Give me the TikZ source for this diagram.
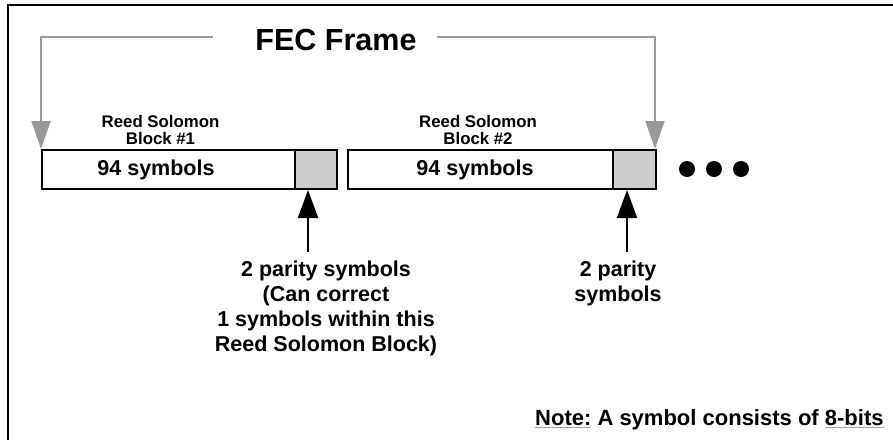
\documentclass[tikz,border=0pt]{standalone}
\usepackage{fontspec}
\setmainfont{Liberation Sans}
\usetikzlibrary{arrows.meta}
\definecolor{bracketgray}{HTML}{999999}
\definecolor{parityfill}{HTML}{CCCCCC}
\definecolor{ulgray}{HTML}{A0A0A0}
\newcommand\grayul[1]{\leavevmode\setbox0\hbox{#1}\rlap{\color{ulgray}\rule[-3.2pt]{\wd0}{0.9pt}}\box0\relax}
\begin{document}
\begin{tikzpicture}[x=1pt,y=-1pt,
  framebox/.style={draw=black,line width=2pt,rectangle,minimum height=39pt,inner sep=0pt},
  paritybox/.style={framebox,fill=parityfill},
  biglabel/.style={font=\bfseries\fontsize{21.5}{25}\selectfont,inner sep=0pt,align=center},
  blocklabel/.style={font=\bfseries\fontsize{16.8}{17.5}\selectfont,inner sep=0pt,align=center},
  grayarrow/.style={draw=bracketgray,line width=2pt,-{Triangle[length=28pt,width=19pt]}},
  blackarrow/.style={draw=black,line width=2pt,-{Triangle[length=28pt,width=20pt]}},
  dot/.style={circle,fill=black,minimum size=16pt,inner sep=0pt}]
\useasboundingbox (0,0) rectangle (893,439);
% outer frame (top and left edges)
\draw[line width=2.5pt] (8,441) -- (8,5) -- (895,5);
% blocks
\node[framebox,minimum width=295pt] (box1) at (189.5,169.5) {};
\node[paritybox,minimum width=42pt] (gray1) at (316,169.5) {};
\node[framebox,minimum width=308pt] (box2) at (502,169.5) {};
\node[paritybox,minimum width=43pt] (gray2) at (634.5,169.5) {};
\node[biglabel] (sym1) at (156,169.5) {94 symbols};
\node[biglabel] (sym2) at (475,169.5) {94 symbols};
% block labels
\node[blocklabel,anchor=north] (rs1) at (160.5,115) {Reed Solomon\\Block \#1};
\node[blocklabel,anchor=north] (rs2) at (478,115) {Reed Solomon\\Block \#2};
% FEC frame bracket
\node[font=\bfseries\fontsize{30.5}{34}\selectfont,inner sep=0pt] (fec) at (336,40) {FEC Frame};
\coordinate (fl) at (213,37);
\coordinate (fr) at (437,37);
\draw[grayarrow] (fl) -| (box1.north west);
\draw[grayarrow] (fr) -| ([xshift=-2pt]box2.north east);
% dots
\node[dot] (d1) at (687,169) {};
\node[dot] (d2) at (714,169) {};
\node[dot] (d3) at (741,169) {};
% parity annotations
\node[biglabel,anchor=north] (p1) at (326,260.3) {2 parity symbols\\(Can correct\\1 symbols within this\\Reed Solomon Block)};
\node[biglabel,anchor=north] (p2) at (618,260.3) {2 parity\\symbols};
\coordinate (a1) at (308,252);
\coordinate (a2) at (627,252);
\draw[blackarrow] (a1) -- (a1 |- gray1.south);
\draw[blackarrow] (a2) -- (a2 |- gray2.south);
% note
\node[font=\bfseries\fontsize{22}{26}\selectfont,inner sep=0pt,anchor=base west] (note) at (535,425) {\grayul{Note:} A symbol consists of \grayul{8-bits}};
\end{tikzpicture}
\end{document}
